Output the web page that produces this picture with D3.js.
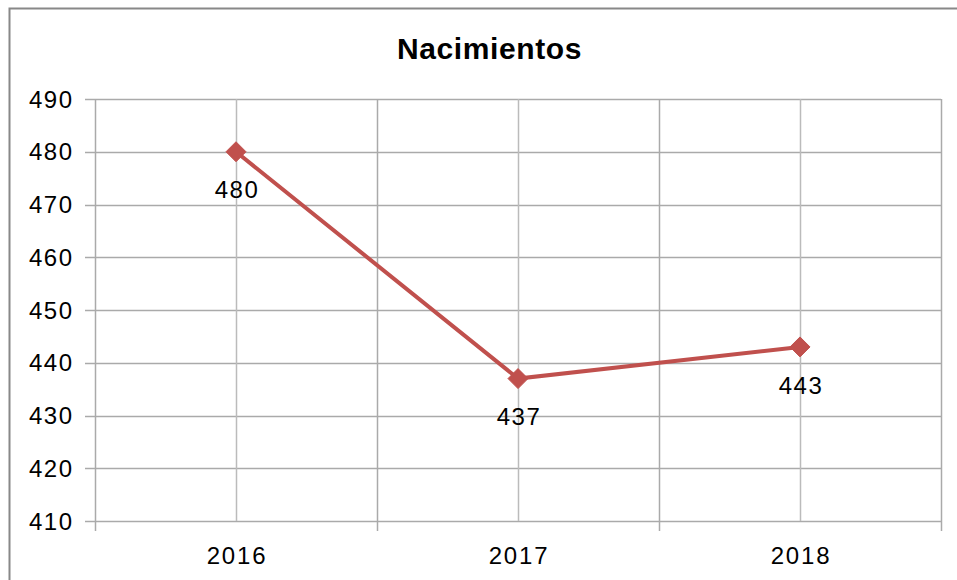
<!DOCTYPE html>
<html><head><meta charset="utf-8">
<script src="https://cdn.jsdelivr.net/npm/d3@7"></script>
<style>body{margin:0;background:#fff;}svg{display:block;font-family:"Liberation Sans",Arial,sans-serif;}</style>
</head><body>
<svg id="c" width="957" height="580"></svg>
<script>
const categories = ["2016","2017","2018"];
const values = [480, 437, 443];
const yTicks = [410,420,430,440,450,460,470,480,490];
const title = "Nacimientos";

const svg = d3.select("#c");
const W = 957, H = 580;
const m = {left:95, right:941, top:99, bottom:521};

svg.append("rect").attr("x",9.5).attr("y",8.5).attr("width",W+20).attr("height",H+20)
  .attr("fill","#fff").attr("stroke","#888").attr("stroke-width",2);

const x = d3.scaleBand().domain(categories).range([m.left,m.right]).padding(0);
const y = d3.scaleLinear().domain([410,490]).range([m.bottom,m.top]);

// horizontal gridlines
svg.append("g").selectAll("line").data(yTicks).join("line")
  .attr("x1",m.left-10).attr("x2",m.right).attr("y1",d=>Math.round(y(d))+0.5).attr("y2",d=>Math.round(y(d))+0.5)
  .attr("stroke","#aaa").attr("stroke-width",1.5);

// vertical gridlines at centers and boundaries
const bounds = categories.map(c=>x(c)).concat([m.right]);
const centers = categories.map(c=>x(c)+x.bandwidth()/2);
svg.append("g").selectAll("line").data(centers).join("line")
  .attr("x1",d=>Math.round(d)+0.5).attr("x2",d=>Math.round(d)+0.5).attr("y1",m.top).attr("y2",m.bottom)
  .attr("stroke","#bbb").attr("stroke-width",1.5);
svg.append("g").selectAll("line").data(bounds).join("line")
  .attr("x1",d=>Math.round(d)+0.5).attr("x2",d=>Math.round(d)+0.5).attr("y1",m.top).attr("y2",m.bottom+10)
  .attr("stroke","#aaa").attr("stroke-width",1.5);

// y labels
svg.append("g").selectAll("text").data(yTicks).join("text")
  .attr("x",73.5).attr("y",d=>y(d)).attr("dy","0.36em").attr("text-anchor","end")
  .attr("font-size",24).attr("letter-spacing",1.5).attr("fill","#000").text(d=>d);

// x labels
svg.append("g").selectAll("text").data(categories).join("text")
  .attr("x",d=>x(d)+x.bandwidth()/2+1).attr("y",564).attr("text-anchor","middle")
  .attr("font-size",24).attr("letter-spacing",1.8).attr("fill","#000").text(d=>d);

// title
svg.append("text").attr("x",489.5).attr("y",59).attr("text-anchor","middle")
  .attr("font-size",30).attr("font-weight","bold").attr("letter-spacing",0.6).attr("fill","#000").text(title);

// line
const line = d3.line().x((d,i)=>x(categories[i])+x.bandwidth()/2).y(d=>y(d));
svg.append("path").datum(values).attr("d",line).attr("fill","none")
  .attr("stroke","#c0504d").attr("stroke-width",4);

// markers
svg.append("g").selectAll("path").data(values).join("path")
  .attr("transform",(d,i)=>`translate(${x(categories[i])+x.bandwidth()/2},${y(d)})`)
  .attr("d","M0,-10L10,0L0,10L-10,0Z").attr("fill","#c0504d").attr("stroke","#c0504d").attr("stroke-width",1);

// data labels
svg.append("g").selectAll("text").data(values).join("text")
  .attr("x",(d,i)=>x(categories[i])+x.bandwidth()/2+1).attr("y",d=>y(d)+38).attr("dy","0.36em")
  .attr("text-anchor","middle").attr("font-size",24).attr("letter-spacing",1.5).attr("fill","#000").text(d=>d);
</script>
</body></html>
